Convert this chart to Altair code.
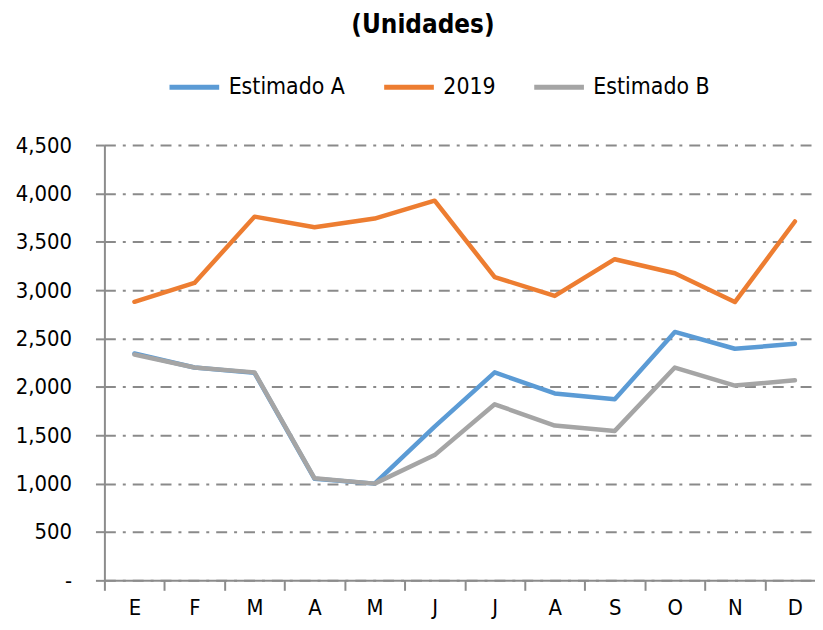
import altair as alt
import pandas as pd

months = ["E", "F", "M", "A", "M", "J", "J", "A", "S", "O", "N", "D"]
series_names = ["Estimado A", "2019", "Estimado B"]
v2019 = [2880, 3075, 3760, 3650, 3740, 3925, 3135, 2940, 3320, 3175, 2877, 3710]
est_a = [2345, 2200, 2145, 1050, 1000, 1590, 2150, 1932, 1872, 2568, 2394, 2445]
est_b = [2335, 2200, 2150, 1055, 1000, 1295, 1820, 1600, 1545, 2200, 2014, 2068]
y_ticks = [0, 500, 1000, 1500, 2000, 2500, 3000, 3500, 4000, 4500]
colors = ["#5B9BD5", "#ED7D31", "#A5A5A5"]

rows = []
for name, vals in [("2019", v2019), ("Estimado A", est_a), ("Estimado B", est_b)]:
    for i, v in enumerate(vals):
        rows.append({"idx": i, "serie": name, "valor": v})
df = pd.DataFrame(rows)

FONT = "DejaVu Sans Condensed"
label_js = "[" + ",".join("'" + m + "'" for m in months) + "][datum.value]"

chart = alt.Chart(df).mark_line(strokeWidth=4.5, strokeCap="round", strokeJoin="round").encode(
    x=alt.X("idx:O",
            scale=alt.Scale(type="band", paddingInner=0, paddingOuter=0),
            axis=alt.Axis(title=None, labelAngle=0, tickBand="extent", tickSize=10,
                          tickWidth=2, tickColor="#8c8c8c", domainColor="#8c8c8c",
                          domainWidth=2, labelPadding=7, labelFontSize=22,
                          labelColor="#000000", labelFont=FONT, labelExpr=label_js,
                          grid=False)),
    y=alt.Y("valor:Q",
            scale=alt.Scale(domain=[0, 4500], nice=False),
            axis=alt.Axis(title=None, values=y_ticks, tickSize=9, tickWidth=2,
                          tickColor="#8c8c8c", domainColor="#8c8c8c", domainWidth=2,
                          labelPadding=24, labelFontSize=22, labelColor="#000000",
                          labelFont=FONT,
                          labelExpr="datum.value == 0 ? '-\u00a0\u00a0\u00a0' : format(datum.value, ',')",
                          grid=True, gridColor="#8a8a8a", gridWidth=2,
                          gridDash=[11, 7, 3, 7])),
    color=alt.Color("serie:N",
                    scale=alt.Scale(domain=series_names, range=colors),
                    legend=alt.Legend(title=None, orient="none", direction="horizontal",
                                      legendX=63, legendY=-86, symbolType="stroke",
                                      symbolSize=2500, symbolStrokeWidth=5,
                                      labelFontSize=23, labelFont=FONT,
                                      labelColor="#000000", labelOffset=7,
                                      columnPadding=28, labelLimit=300)),
    order=alt.Order("idx:Q"),
).properties(
    width=725,
    height=438,
    title=alt.TitleParams("(Unidades)", fontSize=26, font=FONT, fontWeight="bold",
                          color="#000000", anchor="middle", dx=-42, offset=22),
    autosize=alt.AutoSizeParams(type="none"),
    padding={"left": 97, "top": 136, "right": -10, "bottom": 40},
).configure_view(stroke=None)

chart.save("out.html", embed_options={"renderer": "svg", "actions": False})
